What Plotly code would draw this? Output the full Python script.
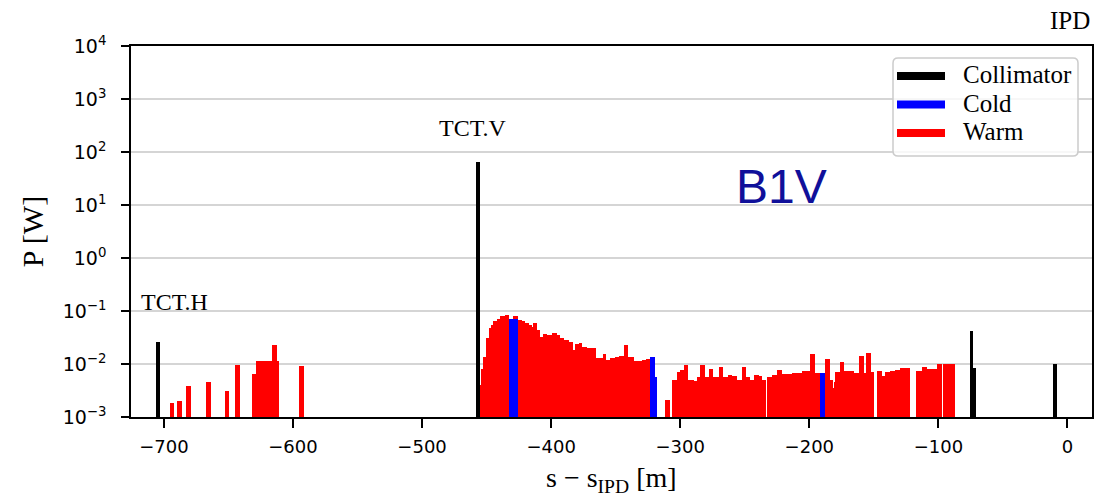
import plotly.graph_objects as go

# Collimator losses (black)
coll_s = [-704.9, -456.6, -74.4, -72.2, -10.0]
coll_p = [0.026, 65.0, 0.042, 0.0083, 0.0102]

# Cold element losses (blue): element start/end [m] and power [W]
cold_start = [-432.3, -323.8, -319.9, -191.5]
cold_end = [-426.0, -319.9, -318.1, -187.6]
cold_p = [0.071, 0.0137, 0.0058, 0.0069]

# Warm element losses (red): element start/end [m] and power [W]
warm_start = [
    -695.3, -689.7, -682.9, -667.4, -652.9, -645.0, -631.8, -628.9, -625.7, -622.5,
    -619.2, -616.0, -612.6, -595.3,
    -455.6, -454.7, -453.8, -452.9, -450.3, -448.5, -446.7, -444.7, -442.1, -439.5,
    -435.6, -432.3, -429.2, -425.8, -422.7, -420.1, -417.5, -414.9, -413.7, -411.1,
    -409.0, -406.4, -403.3, -399.4, -395.6, -393.0, -390.4, -386.5, -383.2, -381.4,
    -378.8, -376.2, -372.3, -368.4, -365.1, -362.5, -359.9, -357.3, -354.2, -350.4,
    -347.8, -343.9, -340.1, -336.2, -333.0, -329.7, -326.5,
    -311.6, -306.5, -302.6, -300.0, -297.4, -294.0, -291.8, -289.7, -287.1, -284.5,
    -281.1, -278.0, -274.7, -270.3, -266.9, -263.3, -259.9, -256.1, -252.2, -248.8,
    -245.7, -243.1, -239.3, -236.7, -232.5, -228.9, -225.1, -221.2, -217.3, -213.4,
    -209.5, -205.7, -202.6, -199.2, -195.9, -187.6, -184.2, -182.0, -180.8, -179.8,
    -176.5, -172.9, -168.7, -165.6, -161.8, -157.6, -155.8, -151.9, -147.5, -143.7,
    -141.1, -137.2, -133.4, -129.5, -125.6, -117.0, -112.7, -108.8, -104.9, -101.0,
    -96.8, -92.0,
]
warm_end = [
    -692.0, -686.0, -679.1, -663.6, -649.4, -641.1, -628.9, -625.7, -622.5, -619.2,
    -616.0, -612.6, -610.6, -591.5,
    -454.7, -453.8, -452.9, -450.3, -448.5, -446.7, -444.7, -442.1, -439.5, -435.6,
    -432.3, -429.2, -425.8, -422.7, -420.1, -417.5, -414.9, -413.7, -411.1, -409.0,
    -406.4, -403.3, -399.4, -395.6, -393.0, -390.4, -386.5, -383.2, -381.4, -378.8,
    -376.2, -372.3, -368.4, -365.1, -362.5, -359.9, -357.3, -354.2, -350.4, -347.8,
    -343.9, -340.1, -336.2, -333.0, -329.7, -326.5, -323.8,
    -307.7, -302.6, -300.0, -297.4, -294.0, -291.8, -289.7, -287.1, -284.5, -281.1,
    -278.0, -274.7, -270.3, -266.9, -263.3, -259.9, -256.1, -252.2, -248.8, -245.7,
    -243.1, -239.3, -236.7, -233.5, -228.9, -225.1, -221.2, -217.3, -213.4, -209.5,
    -205.7, -202.6, -199.2, -195.9, -191.5, -184.2, -182.0, -180.8, -179.8, -176.5,
    -172.9, -168.7, -165.6, -161.8, -157.6, -155.8, -151.9, -150.1, -143.7, -141.1,
    -137.2, -133.4, -129.5, -125.6, -121.7, -112.7, -108.8, -104.9, -101.0, -97.2,
    -92.0, -87.3,
]
warm_p = [
    0.0018, 0.0020, 0.0039, 0.0045, 0.0031, 0.0095, 0.0066, 0.0114, 0.0114, 0.0114,
    0.0114, 0.0230, 0.0114, 0.0093,
    0.0015, 0.0040, 0.0080, 0.0137, 0.0305, 0.0484, 0.0545, 0.0660, 0.0720, 0.0816,
    0.0841, 0.0700, 0.0816, 0.0676, 0.0648, 0.0585, 0.0545, 0.0506, 0.0585, 0.0438,
    0.0328, 0.0363, 0.0360, 0.0379, 0.0352, 0.0305, 0.0284, 0.0264, 0.0184, 0.0235,
    0.0245, 0.0212, 0.0203, 0.0198, 0.0128, 0.0129, 0.0152, 0.0119, 0.0132, 0.0137,
    0.0142, 0.0228, 0.0137, 0.0114, 0.0114, 0.0119, 0.0125,
    0.0021, 0.0051, 0.0072, 0.0077, 0.0096, 0.0051, 0.0051, 0.0048, 0.0058, 0.0096,
    0.0058, 0.0079, 0.0058, 0.0087, 0.0058, 0.0063, 0.0059, 0.0050, 0.0089, 0.0056,
    0.0050, 0.0063, 0.0059, 0.0050, 0.0058, 0.0063, 0.0077, 0.0065, 0.0066, 0.0067,
    0.0067, 0.0075, 0.0073, 0.0155, 0.0069, 0.0124, 0.0050, 0.0036, 0.0046, 0.0070,
    0.0107, 0.0075, 0.0074, 0.0069, 0.0142, 0.0067, 0.0159, 0.0072, 0.0073, 0.0059,
    0.0072, 0.0074, 0.0076, 0.0085, 0.0083, 0.0073, 0.0089, 0.0079, 0.0079, 0.0100,
    0.0102, 0.0102,
]

# Legend entries
legend_names = ["Collimator", "Cold", "Warm"]
legend_colors = ["#000000", "#0000ff", "#ff0000"]

# Axis settings
x_range = [-725.5, 19.0]
y_decades = list(range(-3, 5))

SERIF = "Liberation Serif, Times New Roman, serif"
SANS = "DejaVu Sans, sans-serif"

# Plot-area frame in pixels, with px -> paper helpers
PLOT_L, PLOT_R, PLOT_T, PLOT_B = 131, 1092, 46, 417
PLOT_W, PLOT_H = PLOT_R - PLOT_L, PLOT_B - PLOT_T
M_PER_PX = (x_range[1] - x_range[0]) / PLOT_W


def px_x(px):
    return (px - PLOT_L) / PLOT_W


def px_y(py):
    return (PLOT_B - py) / PLOT_H


def centres(starts, ends):
    return [(a + b) / 2 for a, b in zip(starts, ends)]


def widths(starts, ends):
    return [b - a for a, b in zip(starts, ends)]


fig = go.Figure()

fig.add_trace(go.Bar(
    x=centres(warm_start, warm_end), y=warm_p, width=widths(warm_start, warm_end),
    marker=dict(color=legend_colors[2], line=dict(width=0)), name="Warm",
))
fig.add_trace(go.Bar(
    x=centres(cold_start, cold_end), y=cold_p, width=widths(cold_start, cold_end),
    marker=dict(color=legend_colors[1], line=dict(width=0)), name="Cold",
))
fig.add_trace(go.Bar(
    x=coll_s, y=coll_p, width=3.0,
    marker=dict(color=legend_colors[0], line=dict(width=0)), name="Collimator",
))

# Log minor ticks (2..9 per decade) drawn as short dashes just left of the y spine
y_minor = [m * 10.0 ** e for e in y_decades[:-1] for m in range(2, 10)]
TICK_PX = 5
fig.add_trace(go.Scatter(
    x=[x_range[0] - (TICK_PX / 2) * M_PER_PX] * len(y_minor), y=y_minor,
    mode="markers", cliponaxis=False, hoverinfo="skip",
    marker=dict(symbol="line-ew", size=TICK_PX, color="black",
                line=dict(color="black", width=1.1)),
))

# Legend box with rounded corners
bx0, bx1, by0, by1 = 893, 1078, 58, 156
r = 5
box_path = (
    f"M {px_x(bx0 + r)},{px_y(by0)} L {px_x(bx1 - r)},{px_y(by0)} "
    f"Q {px_x(bx1)},{px_y(by0)} {px_x(bx1)},{px_y(by0 + r)} "
    f"L {px_x(bx1)},{px_y(by1 - r)} Q {px_x(bx1)},{px_y(by1)} {px_x(bx1 - r)},{px_y(by1)} "
    f"L {px_x(bx0 + r)},{px_y(by1)} Q {px_x(bx0)},{px_y(by1)} {px_x(bx0)},{px_y(by1 - r)} "
    f"L {px_x(bx0)},{px_y(by0 + r)} Q {px_x(bx0)},{px_y(by0)} {px_x(bx0 + r)},{px_y(by0)} Z"
)
shapes = [dict(type="path", path=box_path, xref="paper", yref="paper",
               fillcolor="rgba(255,255,255,0.8)", line=dict(color="#cccccc", width=1.5))]
annotations = []
row_y = [76, 104.5, 133]
for name, color, ry in zip(legend_names, legend_colors, row_y):
    shapes.append(dict(type="line", xref="paper", yref="paper",
                       x0=px_x(897), x1=px_x(945), y0=px_y(ry), y1=px_y(ry),
                       line=dict(color=color, width=8)))
    annotations.append(dict(x=px_x(961), y=px_y(ry - 1.5), xref="paper", yref="paper",
                            text=name, showarrow=False, xanchor="left", yanchor="middle",
                            font=dict(family=SERIF, size=25, color="black")))

annotations += [
    dict(x=-691.5, y=-0.83, xref="x", yref="y", text="TCT.H", showarrow=False,
         font=dict(family=SERIF, size=24, color="black"), xanchor="center", yanchor="middle"),
    dict(x=-460.5, y=2.45, xref="x", yref="y", text="TCT.V", showarrow=False,
         font=dict(family=SERIF, size=24, color="black"), xanchor="center", yanchor="middle"),
    dict(x=-221.7, y=1.34, xref="x", yref="y", text="B1V", showarrow=False,
         font=dict(family="Liberation Sans, Arial, sans-serif", size=48, color="#10109a"),
         xanchor="center", yanchor="middle"),
    dict(x=1.0, y=px_y(20), xref="paper", yref="paper", text="IPD", showarrow=False,
         font=dict(family=SERIF, size=25, color="black"), xanchor="right", yanchor="middle"),
    # x-axis title
    dict(x=0.5, y=px_y(499), xref="paper", yref="paper", text="s − s<sub>IPD</sub> [m]",
         showarrow=False, xanchor="center", yanchor="bottom",
         font=dict(family=SERIF, size=28, color="black")),
]

y_tickvals = [10.0 ** e for e in y_decades]
y_ticktext = [f"10<sup>{str(e).replace('-', '−')}</sup>" for e in y_decades]

fig.update_layout(
    width=1107, height=501,
    margin=dict(l=PLOT_L, r=1107 - PLOT_R, t=PLOT_T, b=501 - PLOT_B),
    paper_bgcolor="white", plot_bgcolor="white",
    barmode="overlay", bargap=0, showlegend=False,
    shapes=shapes, annotations=annotations,
    xaxis=dict(
        range=x_range, tick0=0, dtick=100, ticks="outside", ticklen=9, tickwidth=1.5,
        tickcolor="black", showgrid=False, zeroline=False, automargin=False,
        showline=True, linecolor="black", linewidth=1.5, mirror=True,
        tickfont=dict(family=SANS, size=18, color="black"), ticklabelstandoff=4,
    ),
    yaxis=dict(
        type="log", range=[y_decades[0], y_decades[-1]], automargin=False,
        tickmode="array", tickvals=y_tickvals, ticktext=y_ticktext,
        ticks="outside", ticklen=8, tickwidth=1.5, tickcolor="black",
        showgrid=True, gridcolor="#d5d5d5", gridwidth=1.5, zeroline=False,
        showline=True, linecolor="black", linewidth=1.5, mirror=True,
        tickfont=dict(family=SANS, size=19, color="black"), ticklabelstandoff=11,
        title=dict(text="P [W]", font=dict(family=SERIF, size=30, color="black"), standoff=10),
    ),
)

fig.write_html("out.html")
